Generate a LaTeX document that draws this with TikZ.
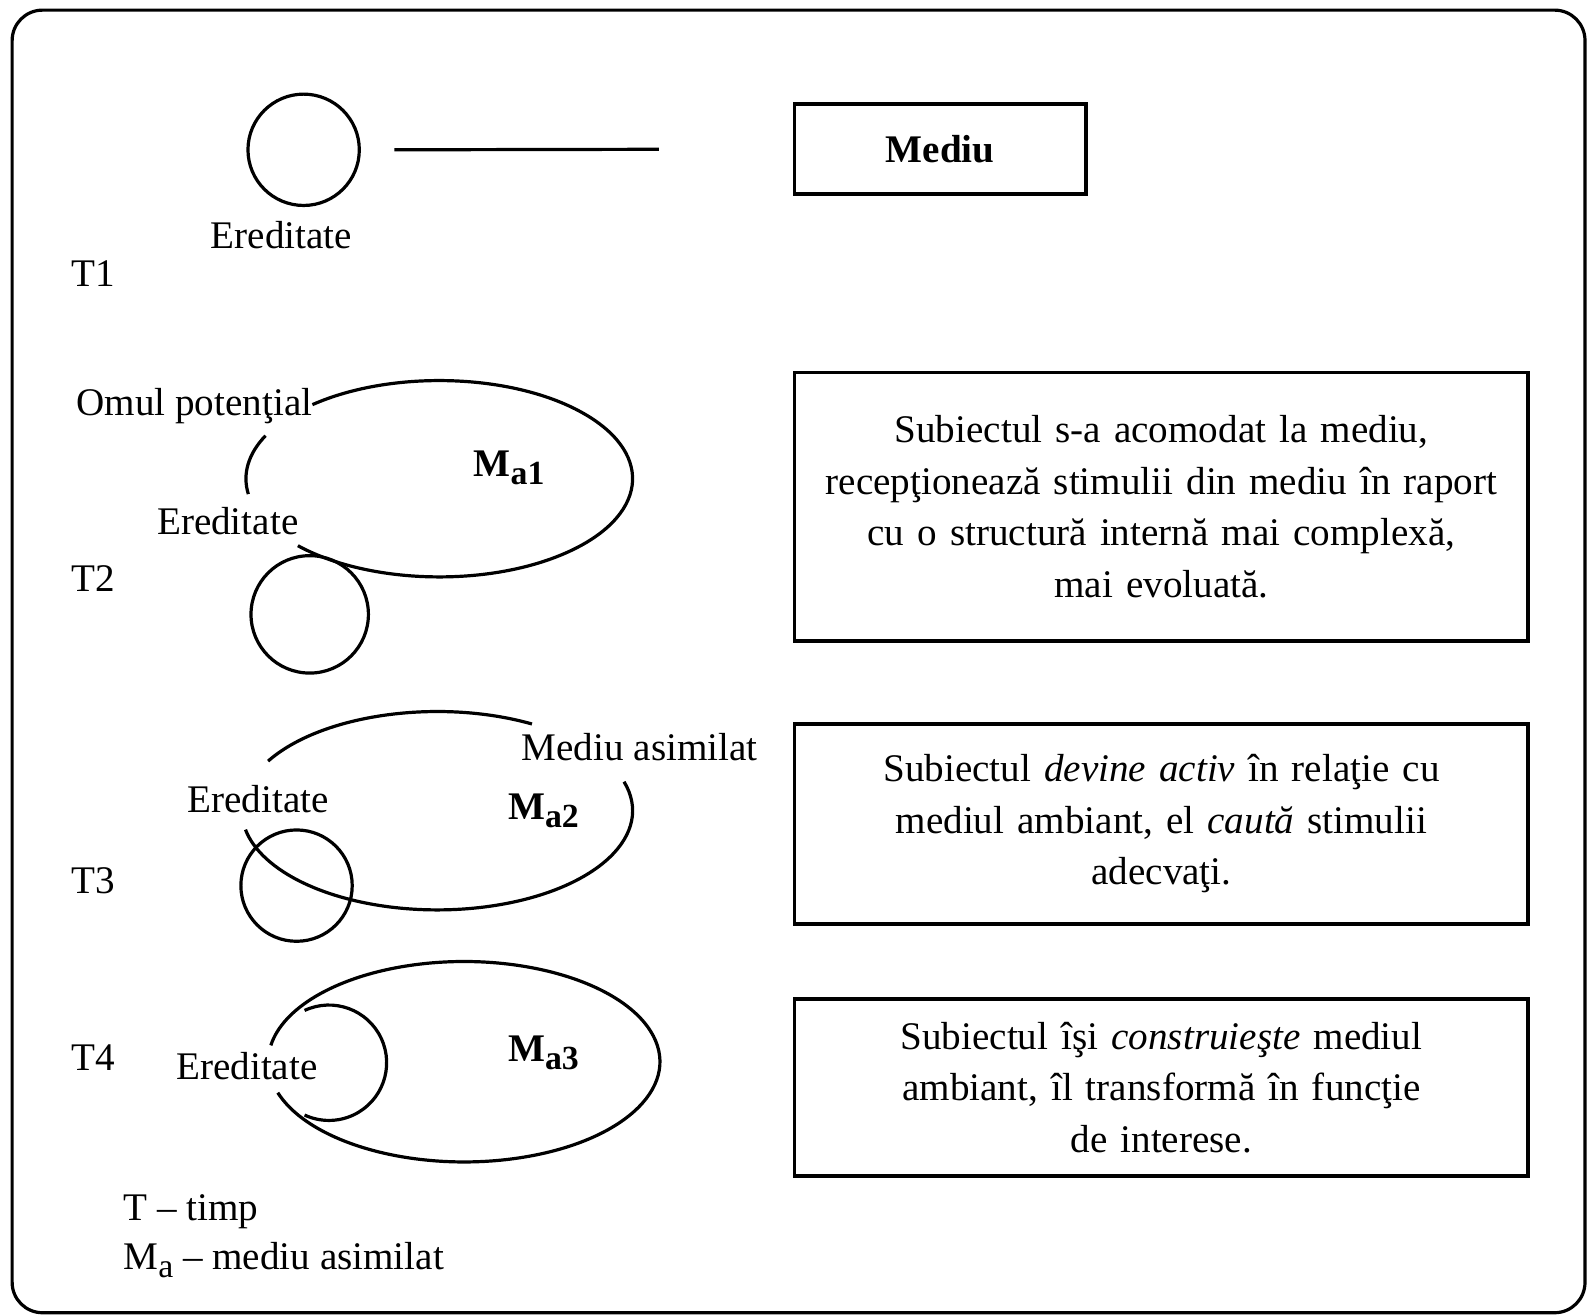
\documentclass[tikz,border=0pt]{standalone}
\usepackage{fontspec}
\setmainfont{Liberation Serif}
\usetikzlibrary{positioning}
\newcommand{\Msub}[1]{\textbf{M\raisebox{-0.45ex}{\fontsize{9.5pt}{10pt}\selectfont #1}}}
\tikzset{
  txtbox/.style={draw, line width=1.1pt, align=center, text width=7.0cm,
    minimum width=7.25cm, minimum height=#1},
  ring/.style={draw, circle, line width=0.9pt, inner sep=0pt, minimum size=#1},
  lbl/.style={inner sep=1pt},
}

\begin{document}
\begin{tikzpicture}[font=\fontsize{11pt}{14.5pt}\selectfont, line width=0.9pt]
  \useasboundingbox (0,0) rectangle (15.68,-12.99);
  % outer frame
  \draw[rounded corners=0.3cm] (0.12,-0.10) rectangle (15.66,-12.97);

  % ===== T1 =====
  \node[ring=1.10cm] (circ1) at (3.00,-1.48) {};
  \node[lbl] (ered1) at (2.78,-2.32) {Ereditate};
  \node[lbl] (t1) at (0.92,-2.70) {T1};
  \node[draw, line width=1.1pt, minimum width=2.88cm, minimum height=0.89cm]
       (mediu) at (9.29,-1.475) {\textbf{Mediu}};
  \draw ([xshift=0.33cm]circ1.east) -- ([xshift=-1.32cm]mediu.west);

  % ===== T2 =====
  \draw (4.34,-4.73) ++(131:1.91 and 0.97)
        arc[start angle=131, end angle=-137, x radius=1.91, y radius=0.97];
  \draw (4.34,-4.73) ++(154:1.91 and 0.97)
        arc[start angle=154, end angle=189, x radius=1.91, y radius=0.97];
  \node[ring=1.16cm] (circ2) at (3.06,-6.07) {};
  \node[lbl] (omul) at (1.92,-4.01) {Omul potenţial};
  \node[lbl] (ered2) at (2.25,-5.15) {Ereditate};
  \node[lbl] (ma1) at (5.03,-4.62) {\Msub{a1}};
  \node[lbl] (t2) at (0.92,-5.72) {T2};
  \node[txtbox=2.65cm] (box2) at (11.475,-5.005)
       {Subiectul s-a acomodat la mediu,\\recepţionează stimulii din mediu în raport\\
        cu o structură internă mai complexă,\\mai evoluată.};

  % ===== T3 =====
  \draw (4.32,-8.01) ++(150:1.93 and 0.98)
        arc[start angle=150, end angle=61, x radius=1.93, y radius=0.98];
  \draw (4.32,-8.01) ++(17:1.93 and 0.98)
        arc[start angle=17, end angle=-169, x radius=1.93, y radius=0.98];
  \node[ring=1.10cm] (circ3) at (2.93,-8.75) {};
  \node[lbl] (ered3) at (2.55,-7.90) {Ereditate};
  \node[lbl] (masim) at (6.32,-7.38) {Mediu asimilat};
  \node[lbl] (ma2) at (5.37,-8.01) {\Msub{a2}};
  \node[lbl] (t3) at (0.92,-8.70) {T3};
  \node[txtbox=1.98cm] (box3) at (11.475,-8.14)
       {Subiectul \emph{devine activ} în relaţie cu\\mediul ambiant, el \emph{caută} stimulii\\adecvaţi.};

  % ===== T4 =====
  \draw (4.585,-10.49) ++(198:1.935 and 0.99)
        arc[start angle=198, end angle=530.6, x radius=1.935, y radius=0.99];
  \draw (3.25,-10.50) ++(115:0.57)
        arc[start angle=115, end angle=-115, radius=0.57];
  \node[lbl] (ered4) at (2.44,-10.53) {Ereditate};
  \node[lbl] (ma3) at (5.37,-10.40) {\Msub{a3}};
  \node[lbl] (t4) at (0.92,-10.45) {T4};
  \node[txtbox=1.75cm] (box4) at (11.475,-10.745)
       {Subiectul îşi \emph{construieşte} mediul\\ambiant, îl transformă în funcţie\\de interese.};

  % ===== legend =====
  \node[lbl, anchor=west] (legT) at (1.17,-11.97) {T -- timp};
  \node[lbl, anchor=west] (legM) at (1.17,-12.45)
       {M\raisebox{-0.45ex}{\fontsize{9.5pt}{10pt}\selectfont a} -- mediu asimilat};
\end{tikzpicture}
\end{document}
